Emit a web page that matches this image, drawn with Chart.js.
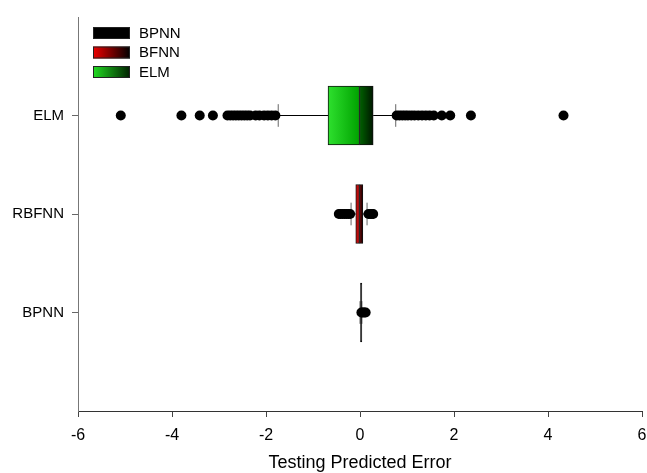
<!DOCTYPE html>
<html>
<head>
<meta charset="utf-8">
<script src="https://cdn.jsdelivr.net/npm/chart.js@4.4.1/dist/chart.umd.min.js"></script>
<style>
  html, body { margin: 0; padding: 0; background: #fff; }
  #wrap { width: 647px; height: 473px; }
</style>
</head>
<body>
<div id="wrap"><canvas id="grafico" width="647" height="473"></canvas></div>
<script>
// Datos (error de predicción en prueba)
const categories = ["BPNN", "RBFNN", "ELM"];
const legendLabels = ["BPNN", "BFNN", "ELM"];
const q1 = [0.0, -0.09, -0.68];
const median = [0.02, -0.01, -0.01];
const q3 = [0.04, 0.06, 0.28];
const whiskerLow = [0.0, -0.19, -1.74];
const whiskerHigh = [0.04, 0.15, 0.76];
const outliersBPNN = [0.03, 0.06, 0.09, 0.12];
const outliersRBFNN = [-0.45, -0.41, -0.37, -0.33, -0.29, -0.25, -0.21, 0.18, 0.22, 0.25, 0.28];
const outliersELM = [-5.09, -3.80, -3.41, -3.13, -2.82, -2.76, -2.70, -2.64, -2.58, -2.52, -2.46, -2.40, -2.34,
    -2.22, -2.14, -2.04, -1.96, -1.88, -1.80,
    0.78, 0.84, 0.90, 0.96, 1.02, 1.09, 1.16, 1.24, 1.32, 1.40, 1.48, 1.57, 1.74, 1.92, 2.36, 4.33];
const xTicks = [-6, -4, -2, 0, 2, 4, 6];

// Colores del relleno (degradado por cada mitad de la caja)
const lowerStart = ["#000000", "#d81010", "#2ee02e"];
const lowerEnd = ["#000000", "#9a0808", "#00a200"];
const upperStart = ["#000000", "#6a0000", "#006200"];
const upperEnd = ["#000000", "#1c0000", "#001600"];
const legendColors = [["#000000", "#000000"], ["#ee0000", "#000000"], ["#22dd22", "#002000"]];

const FONT = "'Liberation Sans', Arial, sans-serif";

function gradiente(ctx, desde, hasta, c0, c1) {
    const chart = ctx.chart;
    const x = chart.scales.x;
    const i = ctx.dataIndex;
    if (!x || ctx.type !== "data") return c0[0];
    const a = x.getPixelForValue(desde[i]);
    const b = x.getPixelForValue(hasta[i]);
    if (!isFinite(a) || !isFinite(b)) return c0[i];
    const g = chart.ctx.createLinearGradient(a, 0, b + 0.01, 0);
    g.addColorStop(0, c0[i]);
    g.addColorStop(1, c1[i]);
    return g;
}

const pos = categories.map((c, i) => i + 1);

const whiskerData = [];
const capData = [];
categories.forEach((c, i) => {
    const y = pos[i];
    whiskerData.push({ x: whiskerLow[i], y }, { x: q1[i], y }, { x: null, y: null });
    whiskerData.push({ x: q3[i], y }, { x: whiskerHigh[i], y }, { x: null, y: null });
    capData.push({ x: whiskerLow[i], y: y - 0.115 }, { x: whiskerLow[i], y: y + 0.115 }, { x: null, y: null });
    capData.push({ x: whiskerHigh[i], y: y - 0.115 }, { x: whiskerHigh[i], y: y + 0.115 }, { x: null, y: null });
});

const outlierData = [];
[outliersBPNN, outliersRBFNN, outliersELM].forEach((lista, i) => {
    lista.forEach(v => outlierData.push({ x: v, y: pos[i] }));
});

const leyenda = {
    id: "leyenda",
    afterDraw(chart) {
        const c = chart.ctx;
        const x0 = chart.chartArea.left + 15;
        const y0 = chart.chartArea.top + 10;
        c.save();
        c.font = "15px " + FONT;
        c.textBaseline = "middle";
        legendLabels.forEach((t, i) => {
            const y = y0 + i * 19.5;
            const g = c.createLinearGradient(x0, 0, x0 + 37, 0);
            g.addColorStop(0, legendColors[i][0]);
            g.addColorStop(1, legendColors[i][1]);
            c.fillStyle = g;
            c.fillRect(x0, y, 37, 12);
            c.strokeStyle = "#222";
            c.lineWidth = 1;
            c.strokeRect(x0 + 0.5, y + 0.5, 36, 11);
            c.fillStyle = "#000";
            c.fillText(t, x0 + 46, y + 6.5);
        });
        c.restore();
    }
};

new Chart(document.getElementById("grafico"), {
    type: "scatter",
    data: {
        datasets: [
            {
                label: "outliers",
                type: "scatter",
                data: outlierData,
                pointRadius: 5,
                pointBackgroundColor: "#000",
                pointBorderColor: "#000",
                pointBorderWidth: 0,
                order: 0
            },
            {
                label: "lower box",
                type: "bar",
                indexAxis: "y",
                grouped: false,
                data: categories.map((c, i) => ({ x: [q1[i], median[i]], y: pos[i] })),
                backgroundColor: ctx => gradiente(ctx, q1, median, lowerStart, lowerEnd),
                borderColor: "#111",
                borderWidth: 1,
                borderSkipped: false,
                barThickness: 59,
                order: 1
            },
            {
                label: "upper box",
                type: "bar",
                indexAxis: "y",
                grouped: false,
                data: categories.map((c, i) => ({ x: [median[i], q3[i]], y: pos[i] })),
                backgroundColor: ctx => gradiente(ctx, median, q3, upperStart, upperEnd),
                borderColor: "#111",
                borderWidth: 1,
                borderSkipped: false,
                barThickness: 59,
                order: 1
            },
            {
                label: "whiskers",
                type: "scatter",
                data: whiskerData,
                showLine: true,
                spanGaps: false,
                borderColor: "#000",
                borderWidth: 1,
                pointRadius: 0,
                order: 2
            },
            {
                label: "caps",
                type: "scatter",
                data: capData,
                showLine: true,
                spanGaps: false,
                borderColor: "#666",
                borderWidth: 1,
                pointRadius: 0,
                order: 2
            }
        ]
    },
    options: {
        responsive: false,
        devicePixelRatio: 1,
        animation: false,
        layout: { padding: { top: 13, right: 3, left: 0, bottom: 0 } },
        plugins: {
            legend: { display: false },
            tooltip: { enabled: false }
        },
        scales: {
            x: {
                type: "linear",
                min: -6,
                max: 6,
                offset: false,
                afterBuildTicks: s => { s.ticks = xTicks.map(v => ({ value: v })); },
                afterFit: s => { s.paddingLeft = 0; s.paddingRight = 0; s.height = 62; },
                ticks: { font: { family: FONT, size: 16 }, color: "#000", padding: 9, maxRotation: 0 },
                grid: { drawOnChartArea: false, offset: false, tickLength: 6, tickColor: "#444" },
                border: { color: "#333", width: 1 },
                title: {
                    display: true,
                    text: "Testing Predicted Error",
                    font: { family: FONT, size: 18 },
                    color: "#000",
                    padding: { top: 0, bottom: -1 }
                }
            },
            y: {
                type: "linear",
                min: 0,
                max: 4,
                offset: false,
                afterBuildTicks: s => { s.ticks = pos.map(v => ({ value: v })); },
                afterFit: s => { s.width = 78; },
                ticks: {
                    font: { family: FONT, size: 15 },
                    color: "#000",
                    padding: 8,
                    callback: v => categories[v - 1]
                },
                grid: { drawOnChartArea: false, offset: false, tickLength: 6, tickColor: "#666" },
                border: { color: "#777", width: 1 }
            }
        }
    },
    plugins: [leyenda]
});
</script>
</body>
</html>
